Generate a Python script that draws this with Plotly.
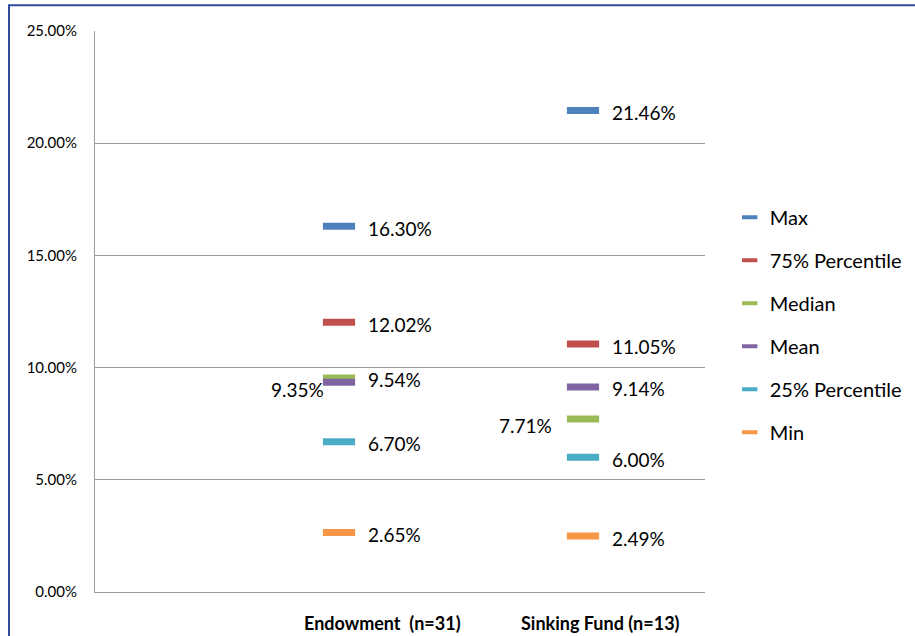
import plotly.graph_objects as go

categories = ["Endowment  (n=31)", "Sinking Fund (n=13)"]
series_names = ["Max", "75% Percentile", "Median", "Mean", "25% Percentile", "Min"]
max_vals = [16.30, 21.46]
p75_vals = [12.02, 11.05]
median_vals = [9.54, 7.71]
mean_vals = [9.35, 9.14]
p25_vals = [6.70, 6.00]
min_vals = [2.65, 2.49]
colors = ["#4F81BD", "#C0504D", "#9BBB59", "#8064A2", "#4BACC6", "#F79646"]
y_ticks = [0, 5, 10, 15, 20, 25]
y_tick_labels = ["0.00%", "5.00%", "10.00%", "15.00%", "20.00%", "25.00%"]

series_values = [max_vals, p75_vals, median_vals, mean_vals, p25_vals, min_vals]
# data labels drawn on the left side (series, category index)
left_labels = {("Mean", 0), ("Median", 1)}

x_pos = [1, 2]
FONT = "Lato, 'Open Sans', sans-serif"

fig = go.Figure()
for i, (name, vals) in enumerate(zip(series_names, series_values)):
    fig.add_trace(go.Scatter(
        x=x_pos, y=vals, name=name, mode="markers",
        marker=dict(symbol="line-ew", size=23, color=colors[i],
                    line=dict(color=colors[i], width=7)),
        showlegend=False, cliponaxis=False, hoverinfo="skip",
    ))
    # legend entry with a smaller dash symbol
    fig.add_trace(go.Scatter(
        x=[None], y=[None], name=name, mode="markers",
        marker=dict(symbol="line-ew", size=11, color=colors[i],
                    line=dict(color=colors[i], width=4)),
        legendgroup=name, showlegend=True, hoverinfo="skip",
    ))
    for j, v in enumerate(vals):
        if (name, j) in left_labels:
            fig.add_annotation(x=x_pos[j], y=v, xref="x", yref="y",
                               text=f"{v:.2f}%", showarrow=False,
                               xanchor="right", xshift=-13 if j == 0 else -29,
                               yshift=-7,
                               font=dict(family=FONT, size=19, color="#000000"))
        else:
            fig.add_annotation(x=x_pos[j], y=v, xref="x", yref="y",
                               text=f"{v:.2f}%", showarrow=False,
                               xanchor="left", xshift=27, yshift=-2,
                               font=dict(family=FONT, size=19, color="#000000"))

# category labels
label_x = [1.18, 2.07]
for cx, lab in zip(label_x, categories):
    fig.add_annotation(x=cx, y=0, xref="x", yref="y", text=f"<b>{lab}</b>",
                       showarrow=False, yshift=-31,
                       font=dict(family=FONT, size=18, color="#000000"))

# outer chart border
fig.add_shape(type="rect", xref="paper", yref="paper",
              x0=-0.141, x1=1.4, y0=-0.2, y1=1.046,
              line=dict(color="#2E4A9C", width=2), layer="below")

fig.update_layout(
    width=915, height=636,
    margin=dict(l=95, r=210, t=31, b=44),
    paper_bgcolor="white", plot_bgcolor="white",
    font=dict(family=FONT, size=15, color="#000000"),
    showlegend=True,
    legend=dict(xref="container", yref="container",
                x=0.7975, y=0.689, xanchor="left", yanchor="top",
                font=dict(family=FONT, size=20, color="#000000"),
                traceorder="grouped", tracegroupgap=14,
                itemwidth=30, bgcolor="rgba(0,0,0,0)"),
    xaxis=dict(range=[0, 2.5], showticklabels=False, showgrid=False,
               zeroline=False, showline=True, linecolor="#9A9A9A", linewidth=1,
               ticks=""),
    yaxis=dict(range=[0, 25], tickvals=y_ticks, ticktext=y_tick_labels,
               showgrid=True, gridcolor="#9A9A9A", gridwidth=1,
               zeroline=False, showline=True, linecolor="#9A9A9A", linewidth=1,
               ticks="", ticklabelstandoff=14,
               tickfont=dict(family=FONT, size=15, color="#000000")),
)

fig.write_html("out.html", config={"displayModeBar": False},
               post_script="document.body.style.margin='0';")
